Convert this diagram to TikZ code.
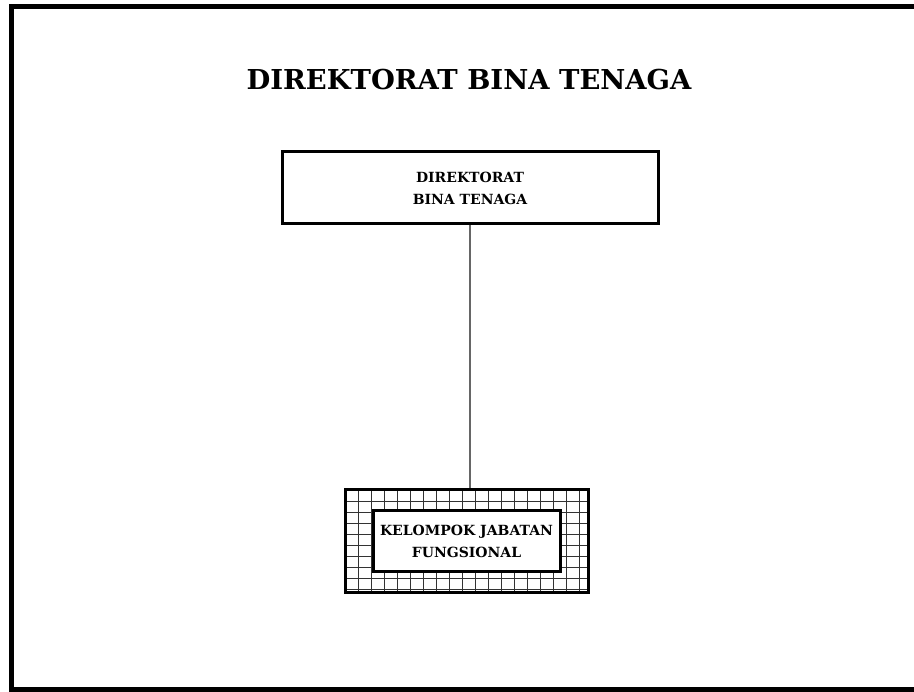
\documentclass[tikz,border=0pt]{standalone}
\usepackage{fontspec}
\setmainfont{DejaVu Serif}
\usepackage{tikz}

\begin{document}
\begin{tikzpicture}
	[x=1pt, y=-1pt,
	 unit/.style={rectangle, draw, line width=3pt, align=center, font=\bfseries\fontsize{14}{22}\selectfont},
	 gridbox/.style={rectangle, draw, line width=3pt, minimum width=243pt, minimum height=103pt}]
	\useasboundingbox (0,0) rectangle (914,692);
	% outer frame
	\draw[line width=5pt] (940,7) -- (11,7) -- (11,689) -- (940,689);
	\node (title) at (469,80) {\bfseries\fontsize{27.4}{32}\selectfont DIREKTORAT BINA TENAGA};
	\node[unit, minimum width=376pt, minimum height=72pt] (dir) at (470,188) {DIREKTORAT\\BINA TENAGA};
	% grid box
	\node[gridbox] (kelgrid) at (466.5,541.5) {};
	\begin{scope}
		\clip (kelgrid.north west) rectangle (kelgrid.south east);
		\draw[line width=0.8pt, black!80, xstep=13pt, ystep=11pt, shift={(345,490)}] (0,0) grid (243,103);
	\end{scope}
	\node[gridbox] at (kelgrid) {};
	\node[unit, fill=white, minimum width=187pt, minimum height=61pt] (kel) at (466.5,541.5) {KELOMPOK JABATAN\\FUNGSIONAL};
	\draw[black!60, line width=1.5pt] (dir.south) -- (dir.south |- kelgrid.north);
\end{tikzpicture}
\end{document}
